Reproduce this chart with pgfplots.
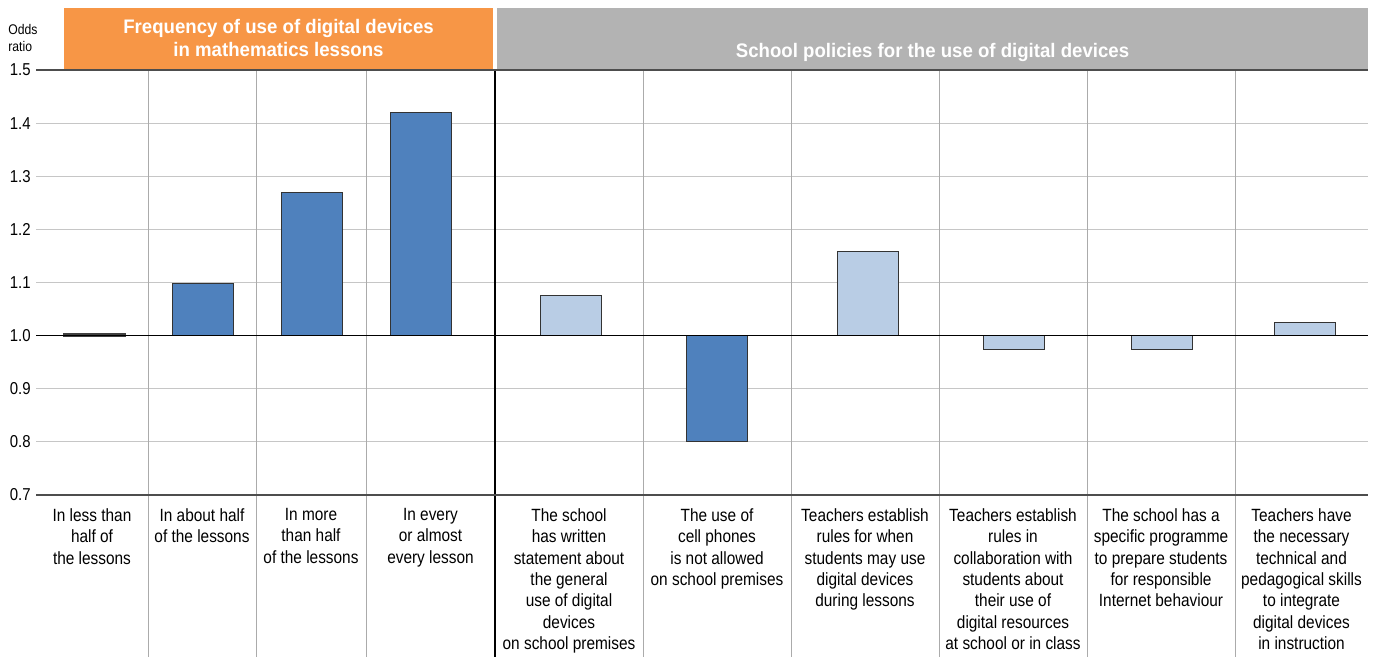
\documentclass[border=0pt]{standalone}
\usepackage{fontspec}
\setmainfont{Liberation Sans}[FakeStretch=0.87]
\newfontfamily\hdrfamily{Liberation Sans Bold}[FakeStretch=0.95]
\usepackage{pgfplots}
\pgfplotsset{compat=1.18}
\definecolor{darkbar}{HTML}{4F81BD}
\definecolor{lightbar}{HTML}{B9CDE5}
\definecolor{hdrorange}{HTML}{F79646}
\definecolor{hdrgray}{HTML}{B3B3B3}
\definecolor{gridgray}{HTML}{C6C6C6}
\definecolor{vgridgray}{HTML}{ABABAB}
\definecolor{axisgray}{HTML}{4D4D4D}
\newcommand\lblfont{\fontsize{8.85pt}{10.7pt}\selectfont}
\newcommand\tickfont{\fontsize{8.6pt}{10pt}\selectfont}
\newcommand\hdrfont{\hdrfamily\fontsize{9.8pt}{11.5pt}\selectfont}
\newcommand\oddsfont{\fontsize{7pt}{8.5pt}\selectfont}
\begin{document}
\begin{tikzpicture}
\useasboundingbox (0,0) rectangle (687.5pt,328.5pt);
\begin{axis}[
  at={(18pt,81pt)}, anchor=south west,
  scale only axis, width=666pt, height=212.5pt,
  xmin=36, xmax=1368,
  y coord trafo/.code={\pgfmathparse{#1-1}},
  y coord inv trafo/.code={\pgfmathparse{#1+1}},
  ymin=0.7, ymax=1.5,
  ytick={0.7,0.8,0.9,1.0,1.1,1.2,1.3,1.4,1.5},
  yticklabels={0.7,0.8,0.9,1.0,1.1,1.2,1.3,1.4,1.5},
  ymajorgrids, major grid style={gridgray, line width=0.5pt},
  axis x line=bottom, axis y line=left,
  axis line style={draw=none},
  major tick length=0pt,
  tick style={draw=none},
  yticklabel style={font=\tickfont, anchor=east, inner sep=0pt, xshift=-2.5pt},
  xtick={92,202,311,430.5,569,717,865,1013,1161,1301.5},
  xticklabels={
    {In less than\\half of\\the lessons},
    {In about half\\of the lessons},
    {In more\\than half\\of the lessons},
    {In every\\or almost\\every lesson},
    {The school\\has written\\statement about\\the general\\use of digital\\devices\\on school premises},
    {The use of\\cell phones\\is not allowed\\on school premises},
    {Teachers establish\\rules for when\\students may use\\digital devices\\during lessons},
    {Teachers establish\\rules in\\collaboration with\\students about\\their use of\\digital resources\\at school or in class},
    {The school has a\\specific programme\\to prepare students\\for responsible\\Internet behaviour},
    {Teachers have\\the necessary\\technical and\\pedagogical skills\\to integrate\\digital devices\\in instruction}},
  xticklabel style={font=\lblfont, align=center, anchor=north, inner sep=0pt, yshift=-6.5pt},
  clip=false,
]
\addplot[ybar, bar width=61, bar shift=0pt, fill=darkbar, draw=black!75, line width=1.1pt]
  coordinates {(94.8,1.003)};
\addplot[ybar, bar width=61, bar shift=0pt, fill=darkbar, draw=black!80, line width=0.5pt]
  coordinates {(203.2,1.099) (312,1.270) (421,1.420) (717,0.800)};
\addplot[ybar, bar width=61, bar shift=0pt, fill=lightbar, draw=black!80, line width=0.5pt]
  coordinates {(571,1.076) (867.8,1.159) (1013.8,0.974) (1161.8,0.974) (1305.3,1.025)};
\end{axis}
\begin{scope}[x=0.5pt, y=-0.5pt, yshift=328.5pt]
  \fill[hdrorange] (64,8) rectangle (493,70);
  \fill[hdrgray] (497,8) rectangle (1368,70);
  \node[anchor=base, text=white, font=\hdrfont, inner sep=0pt] at (278.5,34) {Frequency of use of digital devices};
  \node[anchor=base, text=white, font=\hdrfont, inner sep=0pt] at (278.5,57) {in mathematics lessons};
  \node[anchor=base, text=white, font=\hdrfont, inner sep=0pt] at (932.5,58) {School policies for the use of digital devices};
  \node[anchor=base west, font=\oddsfont, inner sep=0pt] at (8,35) {Odds};
  \node[anchor=base west, font=\oddsfont, inner sep=0pt] at (8,52) {ratio};
  \foreach \x in {148,256,366,643,791,939,1087,1235}
    \draw[vgridgray, line width=0.5pt] (\x,70) -- (\x,657);
  \draw[black, line width=0.6pt] (495,70) -- (495,657);
  \draw[axisgray, line width=0.8pt] (36,70) -- (1368,70);
  \draw[axisgray, line width=0.8pt] (36,495) -- (1368,495);
  \draw[black, line width=0.6pt] (36,335.6) -- (1368,335.6);
\end{scope}
\end{tikzpicture}
\end{document}
